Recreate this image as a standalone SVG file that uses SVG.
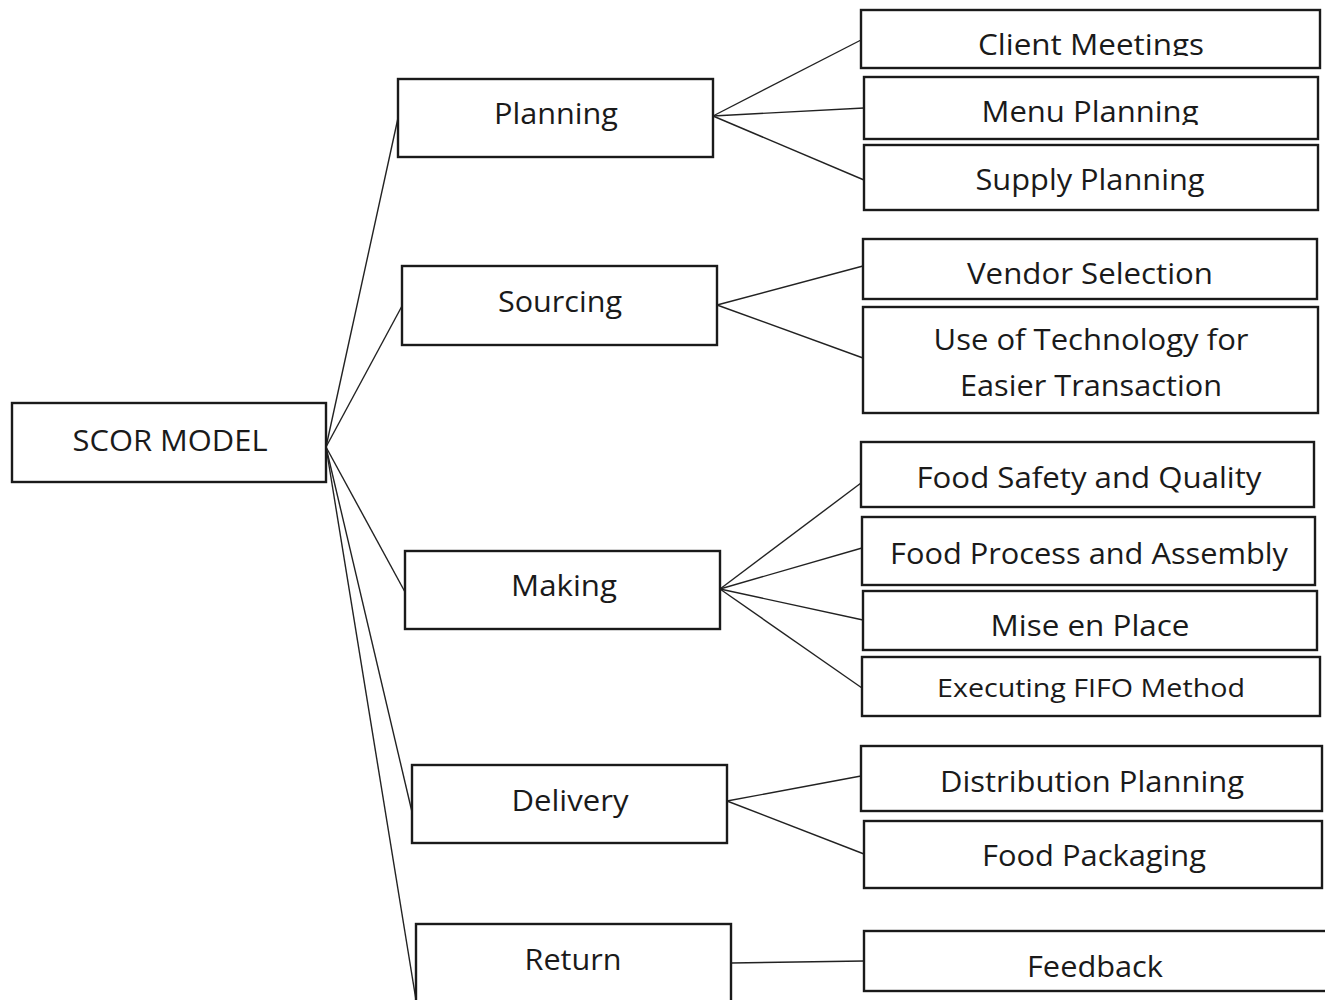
<svg xmlns="http://www.w3.org/2000/svg" width="1325" height="1000" viewBox="0 0 1325 1000">
  <defs>
    <style>
      .box { fill: #ffffff; stroke: #1a1a1a; stroke-width: 2.4; }
      .lbl { font-family: "Open Sans", "Lato", sans-serif; font-size: 30px; fill: #1a1a1a; text-anchor: middle; }
      .small { font-size: 26px; }
      .link { stroke: #222222; stroke-width: 1.4; fill: none; }
    </style>
    <clipPath id="clipClient"><rect x="861" y="10" width="460" height="46"/></clipPath>
    <clipPath id="clipMenu"><rect x="864" y="77" width="455" height="48"/></clipPath>
  </defs>
  <rect width="1325" height="1000" fill="#ffffff"/>

  <!-- connectors -->
  <g id="connectors">
    <line class="link" x1="326" y1="447" x2="398" y2="118"/>
    <line class="link" x1="326" y1="447" x2="402" y2="306"/>
    <line class="link" x1="326" y1="447" x2="405" y2="592"/>
    <line class="link" x1="326" y1="447" x2="412" y2="812"/>
    <line class="link" x1="326" y1="447" x2="416" y2="1000"/>

    <line class="link" x1="713" y1="116" x2="861" y2="40"/>
    <line class="link" x1="713" y1="116" x2="864" y2="108"/>
    <line class="link" x1="713" y1="116" x2="864" y2="180"/>

    <line class="link" x1="717" y1="305" x2="863" y2="266"/>
    <line class="link" x1="717" y1="305" x2="863" y2="358"/>

    <line class="link" x1="720" y1="589" x2="861" y2="483"/>
    <line class="link" x1="720" y1="589" x2="862" y2="548"/>
    <line class="link" x1="720" y1="589" x2="863" y2="620"/>
    <line class="link" x1="720" y1="589" x2="862" y2="688"/>

    <line class="link" x1="727" y1="801" x2="861" y2="776"/>
    <line class="link" x1="727" y1="801" x2="864" y2="854"/>

    <line class="link" x1="731" y1="963" x2="864" y2="961"/>
  </g>

  <!-- root -->
  <g id="scor-model">
    <rect class="box" x="12" y="403" width="314" height="79"/>
    <text class="lbl" x="170" y="451" textLength="195" lengthAdjust="spacingAndGlyphs">SCOR MODEL</text>
  </g>

  <!-- process stages -->
  <g id="planning">
    <rect class="box" x="398" y="79" width="315" height="78"/>
    <text class="lbl" x="556" y="124" textLength="124" lengthAdjust="spacingAndGlyphs">Planning</text>
  </g>
  <g id="sourcing">
    <rect class="box" x="402" y="266" width="315" height="79"/>
    <text class="lbl" x="560" y="312" textLength="124" lengthAdjust="spacingAndGlyphs">Sourcing</text>
  </g>
  <g id="making">
    <rect class="box" x="405" y="551" width="315" height="78"/>
    <text class="lbl" x="564" y="596" textLength="106" lengthAdjust="spacingAndGlyphs">Making</text>
  </g>
  <g id="delivery">
    <rect class="box" x="412" y="765" width="315" height="78"/>
    <text class="lbl" x="570" y="811" textLength="117" lengthAdjust="spacingAndGlyphs">Delivery</text>
  </g>
  <g id="return">
    <rect class="box" x="416" y="924" width="315" height="90"/>
    <text class="lbl" x="573" y="970" textLength="97" lengthAdjust="spacingAndGlyphs">Return</text>
  </g>

  <!-- activities -->
  <g id="client-meetings">
    <rect class="box" x="861" y="10" width="459" height="58"/>
    <text class="lbl" x="1091" y="55" textLength="226" lengthAdjust="spacingAndGlyphs" clip-path="url(#clipClient)">Client Meetings</text>
  </g>
  <g id="menu-planning">
    <rect class="box" x="864" y="77" width="454" height="62"/>
    <text class="lbl" x="1090" y="122" textLength="217" lengthAdjust="spacingAndGlyphs" clip-path="url(#clipMenu)">Menu Planning</text>
  </g>
  <g id="supply-planning">
    <rect class="box" x="864" y="145" width="454" height="65"/>
    <text class="lbl" x="1090" y="190" textLength="229" lengthAdjust="spacingAndGlyphs">Supply Planning</text>
  </g>
  <g id="vendor-selection">
    <rect class="box" x="863" y="239" width="454" height="60"/>
    <text class="lbl" x="1090" y="284" textLength="246" lengthAdjust="spacingAndGlyphs">Vendor Selection</text>
  </g>
  <g id="use-of-technology">
    <rect class="box" x="863" y="307" width="455" height="106"/>
    <text class="lbl" x="1091" y="350" textLength="315" lengthAdjust="spacingAndGlyphs">Use of Technology for</text>
    <text class="lbl" x="1091" y="396" textLength="262" lengthAdjust="spacingAndGlyphs">Easier Transaction</text>
  </g>
  <g id="food-safety">
    <rect class="box" x="861" y="442" width="453" height="65"/>
    <text class="lbl" x="1089" y="488" textLength="345" lengthAdjust="spacingAndGlyphs">Food Safety and Quality</text>
  </g>
  <g id="food-process">
    <rect class="box" x="862" y="517" width="453" height="68"/>
    <text class="lbl" x="1089" y="564" textLength="398" lengthAdjust="spacingAndGlyphs">Food Process and Assembly</text>
  </g>
  <g id="mise-en-place">
    <rect class="box" x="863" y="591" width="454" height="59"/>
    <text class="lbl" x="1090" y="636" textLength="199" lengthAdjust="spacingAndGlyphs">Mise en Place</text>
  </g>
  <g id="fifo">
    <rect class="box" x="862" y="657" width="458" height="59"/>
    <text class="lbl small" x="1091" y="697" textLength="308" lengthAdjust="spacingAndGlyphs">Executing FIFO Method</text>
  </g>
  <g id="distribution-planning">
    <rect class="box" x="861" y="746" width="461" height="65"/>
    <text class="lbl" x="1092" y="792" textLength="304" lengthAdjust="spacingAndGlyphs">Distribution Planning</text>
  </g>
  <g id="food-packaging">
    <rect class="box" x="864" y="821" width="458" height="67"/>
    <text class="lbl" x="1094" y="866" textLength="224" lengthAdjust="spacingAndGlyphs">Food Packaging</text>
  </g>
  <g id="feedback">
    <rect class="box" x="864" y="931" width="466" height="60"/>
    <text class="lbl" x="1095" y="977" textLength="136" lengthAdjust="spacingAndGlyphs">Feedback</text>
  </g>
</svg>
